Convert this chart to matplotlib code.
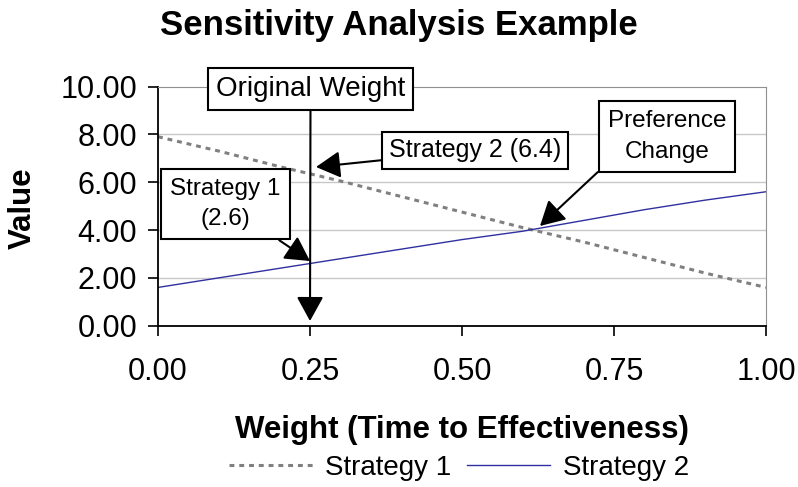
import matplotlib
matplotlib.use("Agg")
import matplotlib.pyplot as plt
from matplotlib import font_manager as fm

weights = [0.0, 0.1, 0.2, 0.3, 0.4, 0.5, 0.6, 0.7, 0.8, 0.9, 1.0]
strategy1 = [7.9, 7.3, 6.65, 6.05, 5.4, 4.75, 4.1, 3.5, 2.85, 2.2, 1.6]
strategy2 = [1.6, 2.0, 2.4, 2.8, 3.2, 3.6, 3.95, 4.4, 4.85, 5.25, 5.6]
xticks = [0.0, 0.25, 0.5, 0.75, 1.0]
yticks = [0, 2, 4, 6, 8, 10]

names = {f.name for f in fm.fontManager.ttflist}
BASE = "Liberation Sans" if "Liberation Sans" in names else "DejaVu Sans"
plt.rcParams["font.family"] = BASE

W, H = 798, 487
fig = plt.figure(figsize=(W / 100, H / 100), dpi=100)
L, R, T, B = 158, 766, 86.5, 325.7
ax = fig.add_axes([L / W, 1 - B / H, (R - L) / W, (B - T) / H])

ax.plot(weights, strategy1, color="#808080", lw=2.2, ls=(0, (1.6, 1.6)), label="Strategy 1")
ax.plot(weights, strategy2, color="#3030a0", lw=1.0, label="Strategy 2")

ax.set_xlim(0, 1)
ax.set_ylim(0, 10)
ax.set_xticks(xticks)
ax.set_yticks(yticks)
ax.set_xticklabels([f"{v:.2f}" for v in xticks], fontsize=22)
ax.set_yticklabels([f"{v:.2f}" for v in yticks], fontsize=22)
ax.tick_params(axis="both", direction="out", length=7, width=1.2, color="black")
ax.tick_params(axis="x", pad=15.5)
ax.tick_params(axis="y", pad=8)
for v in yticks[1:-1]:
    ax.axhline(v, color="#c8c8c8", lw=1.0, zorder=0)
ax.spines["left"].set_color("black")
ax.spines["bottom"].set_color("black")
ax.spines["left"].set_linewidth(1.3)
ax.spines["bottom"].set_linewidth(1.3)
ax.spines["top"].set_color("#909090")
ax.spines["right"].set_color("#909090")

fig.text(0.5, 1 - 35 / H, "Sensitivity Analysis Example", ha="center", va="baseline",
         fontsize=25, fontweight="bold")
fig.text(22.5 / W, 1 - 208 / H, "Value", rotation=90, ha="center", va="center",
         fontsize=22.5, fontweight="bold")
fig.text(462 / W, 1 - 438 / H, "Weight (Time to Effectiveness)", ha="center",
         va="baseline", fontsize=22.5, fontweight="bold")

arr = dict(arrowstyle="-|>,head_length=1.0,head_width=0.55", color="black", lw=1.5,
           mutation_scale=15, shrinkA=0, shrinkB=0)


def box(pad):
    return dict(boxstyle=f"square,pad={pad}", fc="white", ec="black", lw=1.5)


def px2d(x, y):
    return ((x - L) / (R - L), (B - y) / (B - T) * 10)


ax.annotate("Original Weight", xy=px2d(310, 321), xytext=px2d(310.5, 89),
            ha="center", va="center", fontsize=20, bbox=box(0.28),
            arrowprops=dict(arr, relpos=(0.5, 0)),
            annotation_clip=False, zorder=5)
ax.annotate("Strategy 2 (6.4)", xy=px2d(316, 167), xytext=px2d(475, 150.5),
            ha="center", va="center", fontsize=18, bbox=box(0.27), arrowprops=arr,
            annotation_clip=False, zorder=5)
ax.annotate("Strategy 1\n(2.6)", xy=px2d(310, 261), xytext=px2d(225.5, 204),
            ha="center", va="center", fontsize=17.5, bbox=box(0.38), arrowprops=arr,
            annotation_clip=False, zorder=5, linespacing=1.5)
ax.annotate("Preference\nChange", xy=px2d(540, 226), xytext=px2d(667, 136.5),
            ha="center", va="center", fontsize=17.5, bbox=box(0.38),
            arrowprops=dict(arr, relpos=(0, 0)), annotation_clip=False, zorder=5,
            linespacing=1.5)

h, lab = ax.get_legend_handles_labels()
fig.legend(h, lab, loc="center", bbox_to_anchor=(459 / W, 1 - 468 / H), ncol=2,
           frameon=False, handlelength=3.0, columnspacing=0.55, handletextpad=0.45,
           fontsize=20, borderpad=0, borderaxespad=0)

fig.savefig("out.png", dpi=100)
